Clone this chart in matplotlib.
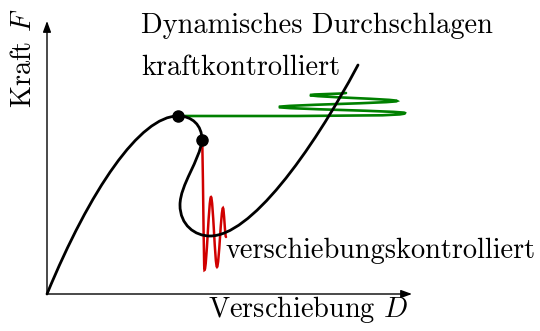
import numpy as np
import matplotlib
matplotlib.use("Agg")
import matplotlib.pyplot as plt
from matplotlib.path import Path
from matplotlib.patches import PathPatch

plt.rcParams['font.family'] = 'cmr10'
plt.rcParams['mathtext.fontset'] = 'cm'
plt.rcParams['axes.formatter.use_mathtext'] = True

# Gleichgewichtspfad als kubische Bezier-Stuecke: Start, dann je (c1, c2, Endpunkt)
path_start = (0.0, 0.0)
path_segments = [
    ((4.3, 10.4), (9.3, 17.8), (13.1, 17.8)),
    ((14.5, 17.8), (15.5, 16.9), (15.5, 15.4)),
    ((15.3, 13.4), (13.3, 10.9), (13.3, 8.9)),
    ((13.3, 6.9), (14.8, 5.8), (16.3, 5.8)),
    ((20.3, 5.8), (26.3, 13.9), (31.1, 22.9)),
]

# Umkehrpunkte der Schwingungen
force_D = [13.1, 35.8, 23.2, 35.0, 26.3, 29.9]
force_F = [17.8, 18.1, 18.7, 19.3, 19.9, 20.1]
disp_D = [15.5, 15.75, 16.4, 17.0, 17.6, 17.9]
disp_F = [15.4, 2.4, 9.7, 2.7, 8.6, 5.7]

# kritische Punkte
crit_D = [13.1, 15.5]
crit_F = [17.8, 15.4]

axis_D_end = 36.5
axis_F_end = 27.3


def bezier_path(start, segments):
    verts = [start]
    codes = [Path.MOVETO]
    for c1, c2, end in segments:
        verts += [c1, c2, end]
        codes += [Path.CURVE4] * 3
    return Path(verts, codes)


def horizontal_swing(xs, ys):
    # Schwingung in D-Richtung: erst waagrecht, dann senkrechte Tangente an den Umkehrpunkten
    dx0 = xs[1] - xs[0]
    segs = [((xs[1] - 0.2 * dx0, ys[0]), (xs[1], ys[0]), (xs[1], ys[1]))]
    for i in range(1, len(xs) - 1):
        dy = ys[i + 1] - ys[i]
        segs.append(((xs[i], ys[i] + dy / 3), (xs[i + 1], ys[i + 1] - dy / 3),
                     (xs[i + 1], ys[i + 1])))
    return bezier_path((xs[0], ys[0]), segs)


def vertical_swing(xs, ys):
    # Schwingung in F-Richtung: waagrechte Tangente an den Umkehrpunkten
    segs = []
    for i in range(len(xs) - 1):
        dx = xs[i + 1] - xs[i]
        segs.append(((xs[i] + dx / 3, ys[i]), (xs[i + 1] - dx / 3, ys[i + 1]),
                     (xs[i + 1], ys[i + 1])))
    return bezier_path((xs[0], ys[0]), segs)


fig = plt.figure(figsize=(5.4, 3.31), dpi=100)
ax = fig.add_axes([0, 0, 1, 1])
ax.set_xlim(-4.7, 49.3)
ax.set_ylim(-3.7, 29.4)
ax.axis('off')

arrow = dict(arrowstyle='-|>,head_length=0.6,head_width=0.22', lw=1.0,
             color='black', mutation_scale=11, shrinkA=0, shrinkB=0)
ax.annotate('', xy=(axis_D_end, 0), xytext=(0, 0), arrowprops=arrow)
ax.annotate('', xy=(0, axis_F_end), xytext=(0, 0), arrowprops=arrow)

ax.add_patch(PathPatch(horizontal_swing(force_D, force_F), fc='none',
                       ec='#008000', lw=1.9, capstyle='round', zorder=2))
ax.add_patch(PathPatch(vertical_swing(disp_D, disp_F), fc='none',
                       ec='#d00000', lw=1.8, capstyle='round', zorder=2))
ax.add_patch(PathPatch(bezier_path(path_start, path_segments), fc='none',
                       ec='black', lw=2.0, capstyle='round', zorder=3))
ax.plot(crit_D, crit_F, 'o', color='black', ms=8, zorder=4)

fs = 20.4
ax.text(9.4, 26.1, 'Dynamisches Durchschlagen', fontsize=fs, va='baseline')
ax.text(9.4, 21.9, 'kraftkontrolliert', fontsize=fs, va='baseline')
ax.text(17.9, 3.6, 'verschiebungskontrolliert', fontsize=fs, va='baseline')
ax.text(16.1, -2.3, r'Verschiebung $D$', fontsize=fs, va='baseline')
ax.text(-2.3, 18.6, r'Kraft $F$', fontsize=fs, rotation=90,
        ha='center', va='bottom')

fig.savefig('out.png', dpi=100)
